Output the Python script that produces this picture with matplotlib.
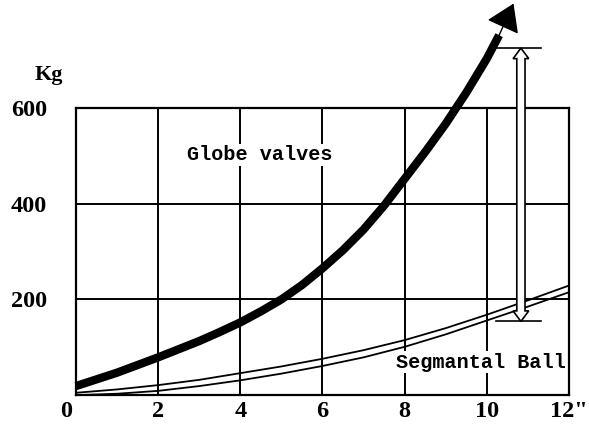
import matplotlib
matplotlib.use("Agg")
import matplotlib.pyplot as plt
from matplotlib.patches import Polygon
from matplotlib.transforms import ScaledTranslation

# valve size (inch) vs weight (kg)
globe_x = [0, 0.5, 1, 1.5, 2, 2.5, 3, 3.5, 4, 4.5, 5, 5.5, 6, 6.5, 7, 7.5, 8, 8.5, 9, 9.5, 10, 10.3]
globe_kg = [19, 33, 47, 63, 79, 96, 113, 132, 152, 175, 200, 230, 265, 303, 346, 396, 452, 508,
            567, 632, 703, 752]
globe_tip = (10.65, 818)

ball_x = [0, 1, 2, 3, 4, 5, 6, 7, 8, 9, 10, 11, 12]
ball_upper = [5, 12, 21, 32, 46, 60, 76, 94, 115, 140, 168, 198, 229]
ball_lower = [0, 3, 9, 19, 31, 45, 61, 79, 101, 127, 156, 185, 215]

xticks = [0, 2, 4, 6, 8, 10, 12]
xtick_labels = ["0", "2", "4", "6", "8", "10", '12"']
yticks = [200, 400, 600]

# span marker between the two curves
span_x = 10.83
span_top, span_bottom = 725, 154

fig = plt.figure(figsize=(5.89, 4.30), dpi=100)
ax = fig.add_axes([0.129, 0.081, 0.837, 0.668])
ax.set_xlim(0, 12)
ax.set_ylim(0, 600)

ax.grid(True, color="black", lw=1.4)
for s in ax.spines.values():
    s.set_linewidth(1.6)

ax.set_xticks(xticks)
ax.set_xticklabels(xtick_labels)
ax.set_yticks(yticks)
ax.tick_params(length=0, labelsize=17.5)
ax.tick_params(axis="x", pad=4)
ax.tick_params(axis="y", pad=21)
for lab in ax.get_xticklabels() + ax.get_yticklabels():
    lab.set_fontfamily("Liberation Serif")
    lab.set_fontweight("bold")
ax.get_xticklabels()[0].set_transform(
    ax.get_xticklabels()[0].get_transform() + ScaledTranslation(-10 / 100, 0, fig.dpi_scale_trans))

ax.text(-0.083, 1.115, "Kg", transform=ax.transAxes, fontsize=16, fontweight="bold",
        family="Liberation Serif", ha="left", va="center")

# curves
ax.plot(ball_x, ball_upper, color="black", lw=1.3, clip_on=False, zorder=3)
ax.plot(ball_x, ball_lower, color="black", lw=1.3, clip_on=False, zorder=3)
ax.plot(globe_x, globe_kg, color="black", lw=6, solid_capstyle="butt", solid_joinstyle="round",
        clip_on=False, zorder=4)
ax.annotate("", xy=globe_tip, xytext=(globe_x[-1], globe_kg[-1]), annotation_clip=False,
            arrowprops=dict(arrowstyle="-|>,head_length=0.85,head_width=0.55", mutation_scale=20,
                            lw=1, color="black", shrinkA=0, shrinkB=0), zorder=4)

# labels
box = dict(facecolor="white", edgecolor="none", pad=1)
ax.text(4.48, 502, "Globe valves", family="Liberation Mono", fontweight="bold", fontsize=14.5,
        ha="center", va="center", bbox=box, zorder=5)
ax.text(9.86, 69, "Segmantal Ball", family="Liberation Mono", fontweight="bold", fontsize=14.5,
        ha="center", va="center", bbox=box, zorder=5)

# hollow double arrow with end bars
hw_shaft, hw_head, head_len = 0.1, 0.19, 22
for y in (span_top, span_bottom):
    ax.plot([span_x - 0.6, span_x + 0.5], [y, y], color="black", lw=1.2, clip_on=False, zorder=5)
verts = [
    (span_x, span_top),
    (span_x + hw_head, span_top - head_len),
    (span_x + hw_shaft, span_top - head_len),
    (span_x + hw_shaft, span_bottom + head_len),
    (span_x + hw_head, span_bottom + head_len),
    (span_x, span_bottom),
    (span_x - hw_head, span_bottom + head_len),
    (span_x - hw_shaft, span_bottom + head_len),
    (span_x - hw_shaft, span_top - head_len),
    (span_x - hw_head, span_top - head_len),
]
ax.add_patch(Polygon(verts, closed=True, facecolor="white", edgecolor="black", lw=1.2,
                     clip_on=False, zorder=6))

fig.savefig("out.png", dpi=100)
